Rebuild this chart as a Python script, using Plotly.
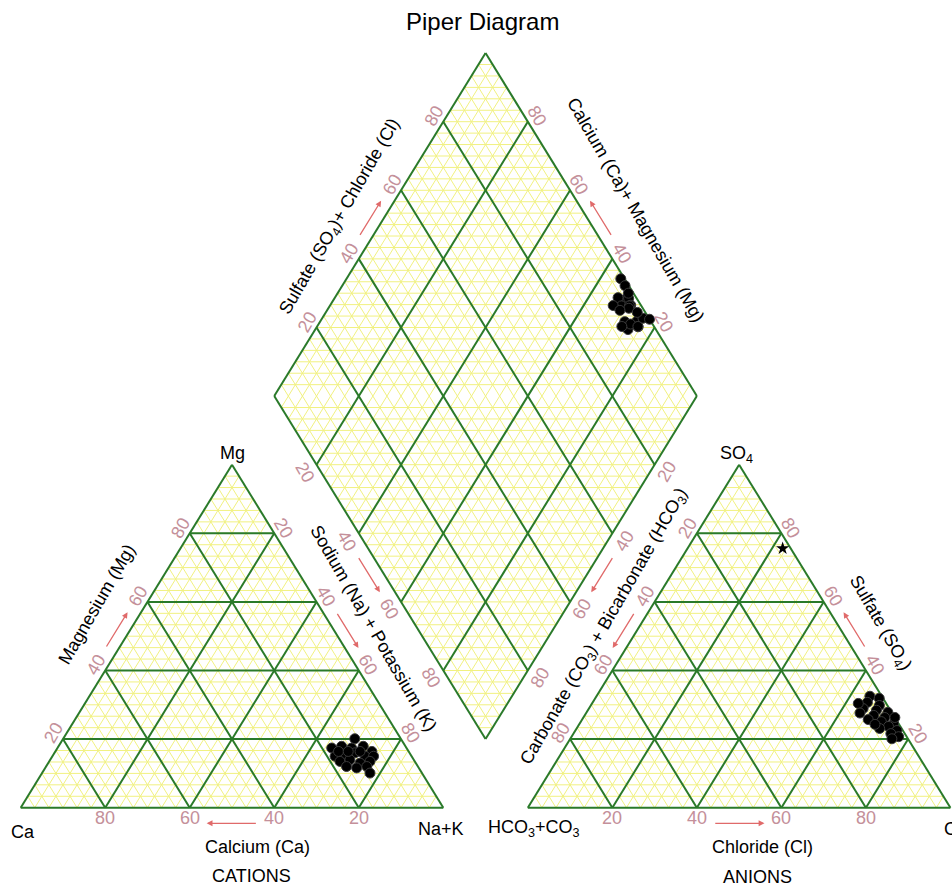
import numpy as np
import plotly.graph_objects as go

# ---- water analyses, percent of total meq/L ----
calcium = [10.9, 17.7, 15.1, 13.0, 10.0, 8.7, 18.1, 15.5, 12.9, 11.0, 9.0,
           17.7, 15.1, 13.2, 10.6, 16.9, 14.7, 12.1, 12.3, 16.6, 14.3, 11.5]
magnesium = [20.1, 17.4, 17.9, 17.4, 17.9, 16.4, 15.0, 15.5, 16.0, 15.0, 15.0,
             13.5, 14.0, 13.0, 13.5, 12.0, 11.6, 12.0, 10.1, 16.4, 16.4, 16.4]
sodium_potassium = [69.0, 64.9, 67.0, 69.6, 72.1, 74.9, 66.9, 69.0, 71.1, 74.0, 76.0,
                    68.8, 70.9, 73.8, 75.9, 71.1, 73.7, 75.9, 77.6, 67.0, 69.3, 72.1]
carbonate_bicarbonate = [2.8, 0.9, 4.3, 1.9, 6.2, 3.3, 0.9, 4.7, 2.4, 6.6, 3.8,
                         1.2, 2.8, 5.2, 1.4, 3.3, 1.9, 3.8, 0.0, 6.6, 5.7, 7.6]
sulfate = [32.5, 31.9, 30.7, 29.8, 28.9, 28.4, 27.8, 26.9, 26.3, 25.7, 25.1,
           24.5, 23.7, 23.1, 22.5, 21.6, 20.7, 20.1, 26.3, 30.4, 24.3, 27.6]
chloride = [64.7, 67.2, 65.0, 68.3, 64.9, 68.3, 71.3, 68.4, 71.3, 67.7, 71.1,
            74.3, 73.5, 71.7, 76.1, 75.1, 77.4, 76.1, 73.7, 63.0, 70.0, 64.8]

# single additional anion analysis
extra_carbonate_bicarbonate = [1.9]
extra_sulfate = [75.6]
extra_chloride = [22.5]

tick_values = [20, 40, 60, 80]
tick_labels = ["20", "40", "60", "80"]

# ---- geometry ----
H = np.sqrt(3) / 2
GAP = 0.2
PX_X = 422.6          # pixels per unit along x
PX_Y = 396.07         # pixels per unit along y
ORIGIN = (20.7, 807.7)
W, HGT = 952, 887

CA_V, NA_V, MG_V = (0.0, 0.0), (1.0, 0.0), (0.5, H)
HC_V, CL_V, SO_V = (1 + GAP, 0.0), (2 + GAP, 0.0), (1.5 + GAP, H)
D_B = (1 + GAP / 2, GAP * H)
D_L = (0.5 + GAP / 2, H + GAP * H)
D_R = (1.5 + GAP / 2, H + GAP * H)
D_T = (1 + GAP / 2, 2 * H + GAP * H)

CAT_C = ((CA_V[0] + NA_V[0] + MG_V[0]) / 3, H / 3)
AN_C = ((HC_V[0] + CL_V[0] + SO_V[0]) / 3, H / 3)
DIA_C = (D_B[0], D_L[1])

GREEN = "#2a7a2a"
YELLOW = "#f1f180"
TICK = "#c4909a"
ARROW = "#e06a6a"
FONT = "Liberation Sans, Arial, sans-serif"


def lerp(p, q, t):
    return (p[0] + (q[0] - p[0]) * t, p[1] + (q[1] - p[1]) * t)


def dia_pt(c, a):
    return (D_B[0] + c * (D_L[0] - D_B[0]) + a * (D_R[0] - D_B[0]),
            D_B[1] + c * (D_L[1] - D_B[1]) + a * (D_R[1] - D_B[1]))


def tri_segments(a, b, c, fracs):
    segs = []
    for f in fracs:
        segs.append((lerp(a, c, f), lerp(b, c, f)))
        segs.append((lerp(a, b, f), lerp(c, b, f)))
        segs.append((lerp(b, a, f), lerp(c, a, f)))
    return segs


def dia_segments(fracs, horizontal):
    segs = []
    for f in fracs:
        segs.append((dia_pt(f, 0), dia_pt(f, 1)))
        segs.append((dia_pt(0, f), dia_pt(1, f)))
    if horizontal:
        for f in fracs:
            segs.append((dia_pt(f, 0), dia_pt(0, f)))
            segs.append((dia_pt(1, f), dia_pt(f, 1)))
    return segs


def seg_xy(segs):
    xs, ys = [], []
    for p, q in segs:
        xs += [p[0], q[0], None]
        ys += [p[1], q[1], None]
    return xs, ys


def outward(p, q, inside):
    dx, dy = (q[0] - p[0]) * PX_X, (q[1] - p[1]) * PX_Y
    n = np.hypot(dx, dy)
    nx, ny = -dy / n, dx / n
    mx, my = (p[0] + q[0]) / 2, (p[1] + q[1]) / 2
    if nx * (inside[0] - mx) * PX_X + ny * (inside[1] - my) * PX_Y > 0:
        nx, ny = -nx, -ny
    return nx, ny


fig = go.Figure()

# fine yellow lattice
fine = [i / 30 for i in range(1, 30)]
for segs in (tri_segments(CA_V, NA_V, MG_V, fine),
             tri_segments(HC_V, CL_V, SO_V, fine),
             dia_segments(fine, True)):
    xs, ys = seg_xy(segs)
    fig.add_trace(go.Scatter(x=xs, y=ys, mode="lines", hoverinfo="skip",
                             line=dict(color=YELLOW, width=1)))

# main 20 % grid and outlines
main = [v / 100 for v in tick_values]
segs = (tri_segments(CA_V, NA_V, MG_V, main) + tri_segments(HC_V, CL_V, SO_V, main)
        + dia_segments(main, False))
segs += [(CA_V, NA_V), (NA_V, MG_V), (MG_V, CA_V),
         (HC_V, CL_V), (CL_V, SO_V), (SO_V, HC_V),
         (D_B, D_L), (D_L, D_T), (D_T, D_R), (D_R, D_B)]
xs, ys = seg_xy(segs)
fig.add_trace(go.Scatter(x=xs, y=ys, mode="lines", hoverinfo="skip",
                         line=dict(color=GREEN, width=2)))

# samples
ca = np.array(calcium) / 100
mg = np.array(magnesium) / 100
nak = np.array(sodium_potassium) / 100
hco3 = np.array(carbonate_bicarbonate) / 100
so4 = np.array(sulfate) / 100
cl = np.array(chloride) / 100

cat_x = nak + mg / 2
cat_y = mg * H
an_x = HC_V[0] + cl + so4 / 2
an_y = so4 * H
dpts = [dia_pt(c, a) for c, a in zip(ca + mg, so4 + cl)]

marker = dict(size=10, color="black", line=dict(color="#3a3a3a", width=1))
for x, y in ((cat_x, cat_y), (an_x, an_y),
             ([p[0] for p in dpts], [p[1] for p in dpts])):
    fig.add_trace(go.Scatter(x=list(x), y=list(y), mode="markers", marker=marker))

ex_so4 = np.array(extra_sulfate) / 100
ex_cl = np.array(extra_chloride) / 100
fig.add_trace(go.Scatter(x=list(HC_V[0] + ex_cl + ex_so4 / 2), y=list(ex_so4 * H),
                         mode="markers",
                         marker=dict(symbol="star", size=10, color="black")))

ann = []


def text_at(pos, text, dx=0, dy=0, angle=0, color="black", size=18, **kw):
    d = dict(x=pos[0], y=pos[1], xref="x", yref="y", text=text, showarrow=False,
             xshift=dx, yshift=dy, textangle=angle, xanchor="center", yanchor="middle",
             font=dict(family=FONT, size=size, color=color))
    d.update(kw)
    ann.append(d)


# tick labels: (edge start, edge end, inside point, angle, offset)
edges = [
    (CA_V, MG_V, CAT_C, -60, 11),   # magnesium
    (MG_V, NA_V, CAT_C, 60, 11),    # sodium + potassium
    (NA_V, CA_V, CAT_C, 0, 10.5),   # calcium
    (SO_V, HC_V, AN_C, -60, 11),    # carbonate + bicarbonate
    (CL_V, SO_V, AN_C, 60, 11),     # sulfate
    (HC_V, CL_V, AN_C, 0, 10.5),    # chloride
    (D_L, D_T, DIA_C, -60, 11),     # sulfate + chloride
    (D_R, D_T, DIA_C, 60, 11),      # calcium + magnesium
    (D_L, D_B, DIA_C, 60, 14),      # sodium + potassium
    (D_R, D_B, DIA_C, -60, 14),     # carbonate + bicarbonate
]
for p, q, inside, angle, off in edges:
    nx, ny = outward(p, q, inside)
    for v, lab in zip(tick_values, tick_labels):
        text_at(lerp(p, q, v / 100), lab, nx * off, ny * off, angle, TICK)
    # direction arrow beside the 40-60 span
    span = 0.06 if angle == 0 else 0.052
    aoff = 15.6 if angle == 0 else (13 if q == D_B else 11.5)
    head = lerp(p, q, 0.5 + span)
    tail = lerp(p, q, 0.5 - span)
    ann.append(dict(x=head[0], y=head[1], ax=tail[0], ay=tail[1], xref="x", yref="y",
                    axref="x", ayref="y", text="", showarrow=True, arrowhead=2,
                    arrowsize=0.9, arrowwidth=1.3, arrowcolor=ARROW,
                    xshift=nx * aoff, yshift=ny * aoff))

# axis titles along edges: (edge start, edge end, inside, t, offset, angle, text)
titles = [
    (CA_V, MG_V, CAT_C, 0.53, 42, -60, "Magnesium (Mg)"),
    (MG_V, NA_V, CAT_C, 0.532, 34.7, 60, "Sodium (Na) + Potassium (K)"),
    (HC_V, SO_V, AN_C, 0.483, 29.2, -60,
     "Carbonate (CO<sub>3</sub>) + Bicarbonate (HCO<sub>3</sub>)"),
    (SO_V, CL_V, AN_C, 0.518, 36.8, 60, "Sulfate (SO<sub>4</sub>)"),
    (D_L, D_T, DIA_C, 0.466, 37.5, -60, "Sulfate (SO<sub>4</sub>)+ Chloride (Cl)"),
    (D_T, D_R, DIA_C, 0.527, 45.6, 60, "Calcium (Ca)+ Magnesium (Mg)"),
]
for p, q, inside, t, off, angle, txt in titles:
    nx, ny = outward(p, q, inside)
    text_at(lerp(p, q, t), txt, nx * off, ny * off, angle)

text_at(lerp(CA_V, NA_V, 0.56), "Calcium (Ca)", 0, -39.6)
text_at(lerp(CA_V, NA_V, 0.545), "CATIONS", 0, -68.3)
text_at(lerp(HC_V, CL_V, 0.555), "Chloride (Cl)", 0, -39)
text_at(lerp(HC_V, CL_V, 0.544), "ANIONS", 0, -69)

# vertex names
text_at(CA_V, "Ca", 2, -24.6)
text_at(NA_V, "Na+K", -2.5, -21)
text_at(MG_V, "Mg", 0, 12)
text_at(SO_V, "SO<sub>4</sub>", -2.4, 10)
text_at(HC_V, "HCO<sub>3</sub>+CO<sub>3</sub>", 6, -21)
text_at(CL_V, "Cl", -8.7, -21, xanchor="left")

ann.append(dict(x=482.5 / W, y=1 - 22 / HGT, xref="paper", yref="paper",
                text="Piper Diagram", showarrow=False, xanchor="center", yanchor="middle",
                font=dict(family=FONT, size=24, color="black")))

fig.update_layout(
    width=W, height=HGT, margin=dict(l=0, r=0, t=0, b=0, pad=0),
    paper_bgcolor="white", plot_bgcolor="white", showlegend=False,
    xaxis=dict(range=[-ORIGIN[0] / PX_X, (W - ORIGIN[0]) / PX_X], visible=False),
    yaxis=dict(range=[-(HGT - ORIGIN[1]) / PX_Y, ORIGIN[1] / PX_Y], visible=False),
    annotations=ann,
)

fig.write_html("out.html")
